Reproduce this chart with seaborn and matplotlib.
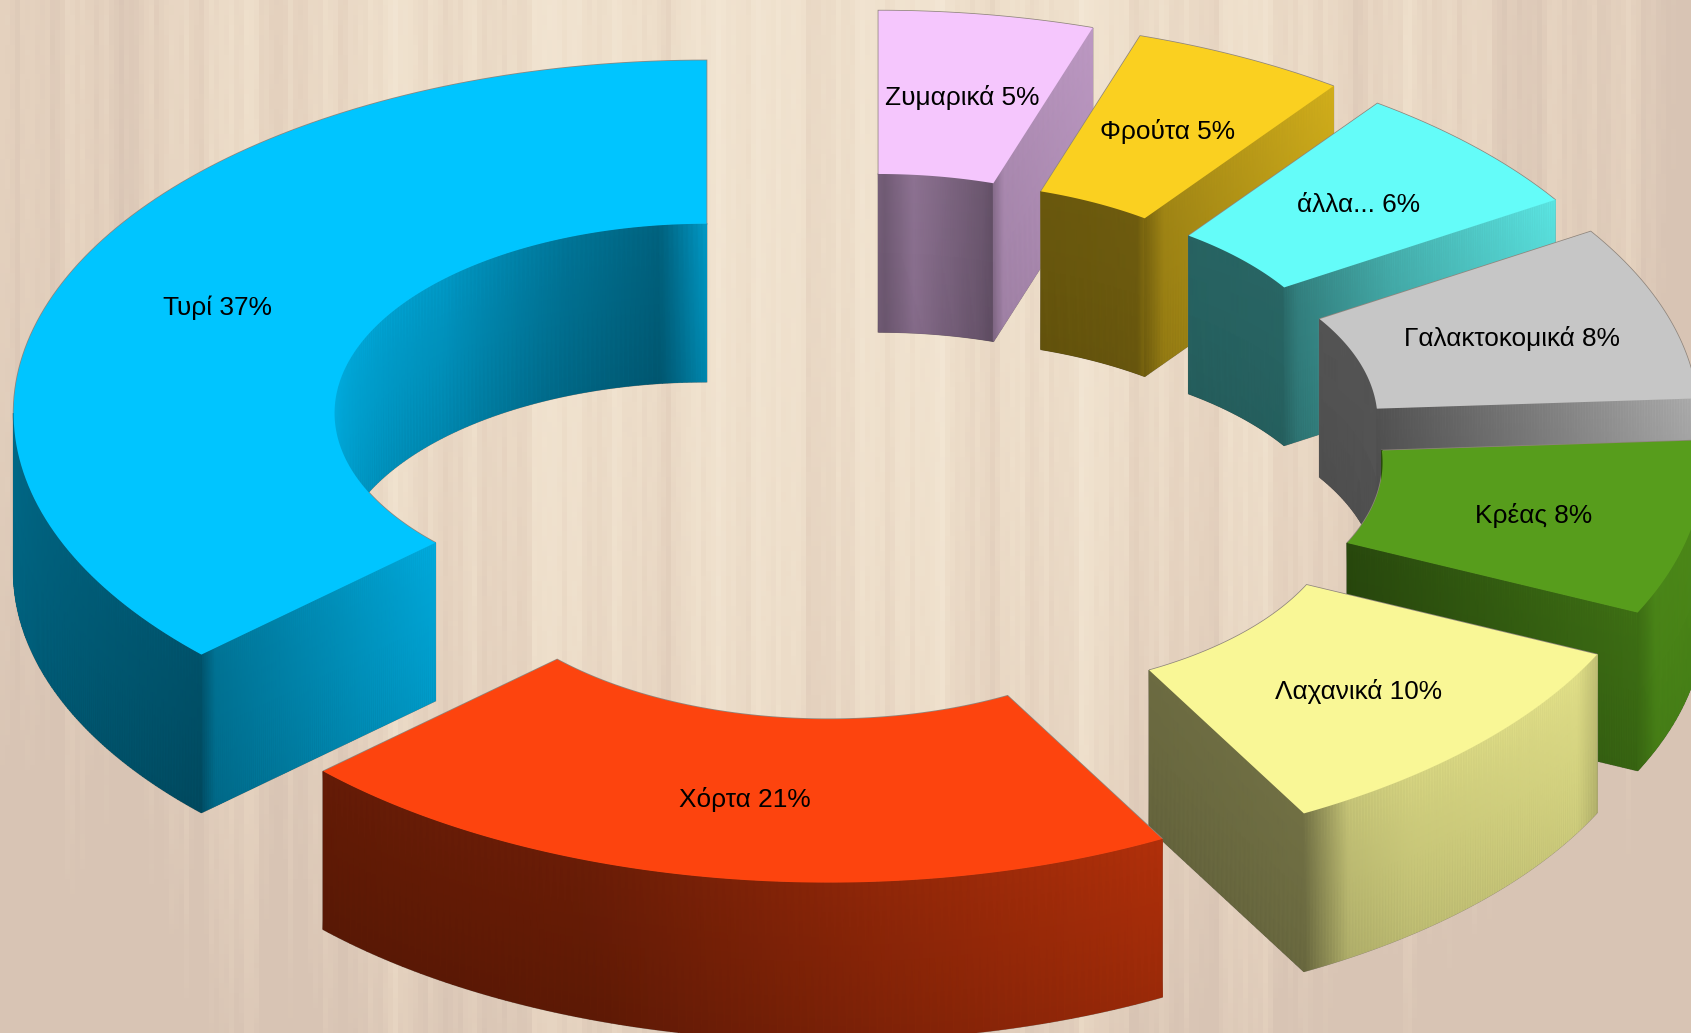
import numpy as np
import seaborn as sns
import matplotlib
matplotlib.use('Agg')
import matplotlib.pyplot as plt
from matplotlib.colors import to_rgb
from matplotlib.patches import Polygon

names = ['Τυρί', 'Χόρτα', 'Λαχανικά', 'Κρέας', 'Γαλακτοκομικά', 'άλλα...', 'Φρούτα', 'Ζυμαρικά']
shares = [37, 21, 10, 8, 8, 6, 5, 5]
top_colors = ['#00C5FF', '#FD440E', '#F9F796', '#579D1C', '#C6C6C6', '#64FCF9', '#FAD020', '#F5C6FD']

# brightness along each wall as (position, factor), None = wall not seen
outer_shade = [
    [(0, .57), (.9, .44), (1, .42)],
    [(0, .40), (.35, .42), (.7, .58), (1, .70)],
    [(0, .47), (.12, .80), (.3, .86), (.9, .92), (1, .80)],
    [(0, .72), (.15, .88), (1, .92)],
    None, None, None, None,
]
inner_shade = [
    [(0, .78), (.08, .50), (.25, .60), (.5, .78), (1, .92)],
    None, None,
    [(0, .5), (1, .5)],
    [(0, .45), (1, .44)],
    [(0, .42), (1, .41)],
    [(0, .55), (.08, .46), (1, .44)],
    [(0, .42), (.1, .46), (.7, .60), (.95, .48), (1, .5)],
]
cut_shade = [
    [(0, .44), (.06, .60), (1, .88)],
    None,
    [(0, .47), (1, .45)],
    [(0, .72), (1, .47)],
    [(0, .88), (.55, .62), (1, .42)],
    [(0, .92), (.6, .70), (.95, .52), (1, .44)],
    [(0, .86), (.9, .66), (1, .50)],
    [(0, .80), (.9, .72), (1, .58)],
]

W, H = 1691, 1033
CENTER = (853.4, 446.6)
R_OUT, R_IN = 693, 372
SQUASH = 0.509
DEPTH = 158
EXPLODE_X, EXPLODE_Y = 160, 84.3
STEPS = 120
EDGE = '#8f857c'


def overlap(a0, a1, bands):
    for lo, hi in bands:
        start, end = max(a0, lo), min(a1, hi)
        if end - start > 0.01:
            return start, end
    return None


def wall_outline(ax, xs, ys):
    pts = np.r_[np.column_stack([xs, ys]), np.column_stack([xs, ys - DEPTH])[::-1]]
    ax.add_patch(Polygon(pts, closed=True, fill=False, edgecolor=EDGE, linewidth=1.1))


def draw_wall(ax, xs, ys, color, stops, fade=.13):
    # xs, ys run along the top edge, the wall hangs DEPTH below it
    pos, fac = zip(*stops)
    tone = np.interp(np.linspace(0, 1, len(xs)), pos, fac)
    drop = np.array([0, 1])
    X = np.vstack([xs, xs])
    Y = np.vstack([ys - d * DEPTH for d in drop])
    rgb = np.array(to_rgb(color))
    C = np.stack([np.outer(1 - fade * drop, tone) * c for c in rgb], axis=-1)
    ax.pcolormesh(X, Y, np.clip(C, 0, 1), shading='gouraud')


def draw_slice(ax, i, a0, a1):
    color = top_colors[i]
    mid = np.radians((a0 + a1) / 2)
    cx = EXPLODE_X * np.cos(mid)
    cy = EXPLODE_Y * np.sin(mid)

    def arc(r, start, end):
        a = np.radians(np.linspace(start, end, STEPS))
        return cx + r * np.cos(a), cy + r * SQUASH * np.sin(a)

    def cut(angle):
        a = np.radians(angle)
        r = np.linspace(R_OUT, R_IN, STEPS)
        return cx + r * np.cos(a), cy + r * SQUASH * np.sin(a)

    # back walls first, top face last
    walls = []
    seen = overlap(a0, a1, [(0, 180), (360, 540)])
    if seen and inner_shade[i]:
        walls.append((arc(R_IN, *seen), inner_shade[i]))
    if cut_shade[i]:
        angle = a1 if np.cos(np.radians(a1)) < 0 else a0
        walls.append((cut(angle), cut_shade[i]))
    seen = overlap(a0, a1, [(180, 360), (540, 720)])
    if seen and outer_shade[i]:
        walls.append((arc(R_OUT, *seen), outer_shade[i]))

    xo, yo = arc(R_OUT, a0, a1)
    xi, yi = arc(R_IN, a1, a0)
    top = np.column_stack([np.r_[xo, xi], np.r_[yo, yi]])

    # outlines go under the fills, so only the rim against the outside shows
    ax.add_patch(Polygon(top, closed=True, fill=False, edgecolor=EDGE, linewidth=1.1))
    for (xs, ys), _ in walls:
        wall_outline(ax, xs, ys)
    for (xs, ys), stops in walls:
        draw_wall(ax, xs, ys, color, stops)
    ax.add_patch(Polygon(top, closed=True, facecolor=color, edgecolor='none'))

    r = (R_OUT + R_IN) / 2
    ax.text(cx + r * np.cos(mid), cy + r * SQUASH * np.sin(mid) - 2,
            f'{names[i]} {shares[i]}%', ha='center', va='center',
            fontsize=18.9, color='black', zorder=50)


def wood_texture():
    x = np.linspace(0, 1, 340)
    y = np.linspace(0, 1, 208)[:, None]
    grain = (np.sin(x * 61) + .8 * np.sin(x * 137 + 1) + .6 * np.sin(x * 293 + 2)
             + .5 * np.sin(x * 521 + .5) + .35 * np.sin(x * 911 + 3))
    wobble = .25 * np.sin(y * 83 + x * 40) * np.sin(x * 700)
    light = 1 - 1.3 * (x - .48) ** 2 - .22 * y ** 2 * (1 + np.abs(x - .45))
    return .055 * (grain + wobble) + light


sns.set_theme(style='white')
plt.rcParams['font.family'] = ['Liberation Sans', 'DejaVu Sans']

fig = plt.figure(figsize=(W / 100, H / 100), dpi=100)
bg = fig.add_axes([0, 0, 1, 1])
wood = sns.blend_palette(['#D8C4B4', '#E4D1BE', '#EEDFCB', '#F3E7D5'], as_cmap=True)
sns.heatmap(wood_texture(), ax=bg, cmap=wood, vmin=.6, vmax=1.15, cbar=False,
            xticklabels=False, yticklabels=False, rasterized=True)

ax = fig.add_axes([0, 0, 1, 1])
ax.patch.set_alpha(0)
ax.set_xlim(-CENTER[0], W - CENTER[0])
ax.set_ylim(CENTER[1] - H, CENTER[1])
ax.axis('off')

ends = np.cumsum(shares) / sum(shares) * 360 + 90
starts = np.r_[90, ends[:-1]]
mids = (starts + ends) / 2
for i in np.argsort(-np.sin(np.radians(mids))):
    draw_slice(ax, i, starts[i], ends[i])

fig.savefig('out.png', dpi=100)
